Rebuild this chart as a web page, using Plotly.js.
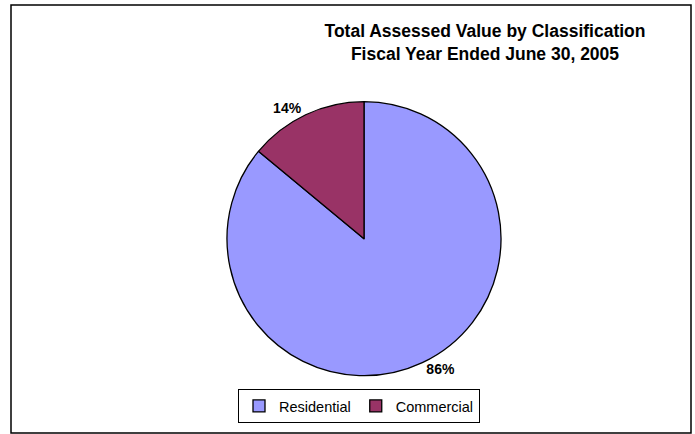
<!DOCTYPE html>
<html>
<head>
<meta charset="utf-8">
<script src="https://cdn.plot.ly/plotly-3.0.1.min.js"></script>
<style>html,body{margin:0;padding:0;background:#fff;}#chart{width:695px;height:434px;}</style>
</head>
<body>
<div id="chart"></div>
<script>
var categories = ['Residential', 'Commercial'];
var shares = [86, 14];
var sliceColors = ['#9999FF', '#993366'];
var titleLines = ['Total Assessed Value by Classification', 'Fiscal Year Ended June 30, 2005'];

var trace = {
  type: 'pie',
  labels: categories,
  values: shares,
  sort: false,
  direction: 'clockwise',
  rotation: 0,
  textinfo: 'percent',
  texttemplate: '%{percent:.0%}',
  textposition: 'outside',
  outsidetextfont: {family: 'Liberation Sans, Arial, sans-serif', size: 14, color: '#000', weight: 'bold'},
  marker: {colors: sliceColors, line: {color: '#000', width: 1.3}},
  domain: {x: [0.3266, 0.7209], y: [0.1343, 0.7657]},
  hoverinfo: 'label+percent',
  automargin: false
};

var layout = {
  width: 695,
  height: 434,
  margin: {l: 0, r: 0, t: 0, b: 0},
  paper_bgcolor: '#fff',
  font: {family: 'Liberation Sans, Arial, sans-serif', color: '#000'},
  title: {
    text: '<b>' + titleLines.join('<br>') + '</b>',
    font: {family: 'Liberation Sans, Arial, sans-serif', size: 17.5, color: '#000'},
    x: 485 / 695, xanchor: 'center', xref: 'paper',
    y: 1 - 37 / 434, yanchor: 'top', yref: 'container'
  },
  showlegend: true,
  legend: {
    orientation: 'h',
    x: 359 / 695, xanchor: 'center',
    y: (434 - 389) / 434, yanchor: 'top',
    bordercolor: '#000', borderwidth: 1, bgcolor: '#fff',
    font: {family: 'Liberation Sans, Arial, sans-serif', size: 14.5, color: '#000'},
    traceorder: 'normal',
    itemwidth: 30
  },
  shapes: [{
    type: 'rect', xref: 'paper', yref: 'paper',
    x0: 11 / 695, x1: 691 / 695, y0: 1 / 434, y1: 1 - 5 / 434,
    line: {color: '#000', width: 1.5}
  }]
};

Plotly.newPlot('chart', [trace], layout, {displayModeBar: false, staticPlot: true});
</script>
</body>
</html>
